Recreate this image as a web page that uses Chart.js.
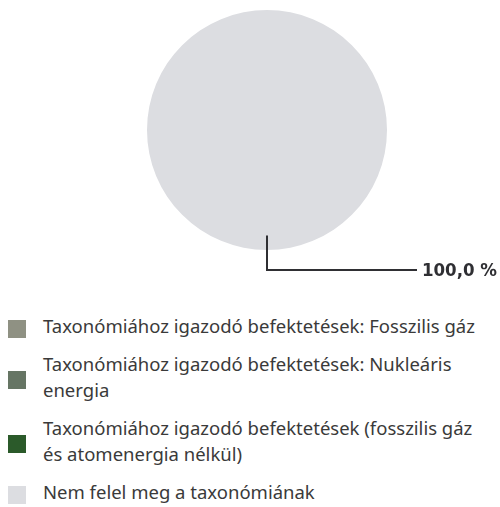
<!DOCTYPE html>
<html>
<head>
<meta charset="utf-8">
<script src="https://cdn.jsdelivr.net/npm/chart.js@4.4.1/dist/chart.umd.min.js"></script>
<style>
  html, body { margin: 0; padding: 0; background: #fff; }
  #wrap { width: 500px; height: 507px; position: relative; overflow: hidden; }
  #pieBox { width: 500px; height: 300px; position: relative; }
  #legende { position: absolute; left: 0; top: 300px; width: 500px;
             font-family: "Noto Sans", sans-serif; font-size: 18.5px; color: #3a3a3a; }
  .item { display: flex; align-items: center; margin-bottom: 11px; }
  .item:first-child { margin-top: 13px; }
  .carre { width: 18px; height: 18px; margin-left: 8px; margin-right: 17px; flex: none; position: relative; top: 3px; }
  .texte div { line-height: 26.5px; white-space: nowrap; }
</style>
</head>
<body>
<div id="wrap">
  <div id="pieBox"><canvas id="chartTaxo"></canvas></div>
  <div id="legende"></div>
</div>
<script>
// Catégories (chaque libellé = lignes de texte de la légende)
const categories = [
  ['Taxonómiához igazodó befektetések: Fosszilis gáz'],
  ['Taxonómiához igazodó befektetések: Nukleáris', 'energia'],
  ['Taxonómiához igazodó befektetések (fosszilis gáz', 'és atomenergia nélkül)'],
  ['Nem felel meg a taxonómiának']
];
// Parts en %
const valeurs = [0, 0, 0, 100];
const couleurs = ['#8f9183', '#667564', '#2b5a2a', '#dcdde1'];
const etiquette = '100,0 %';

// === Plugin : ligne de rappel + étiquette du pourcentage ===
const rappelPlugin = {
  id: 'rappel',
  afterDatasetsDraw(chart) {
    const ctx = chart.ctx;
    const meta = chart.getDatasetMeta(0);
    const idx = valeurs.indexOf(Math.max(...valeurs));
    const arc = meta.data[idx];
    const mid = (arc.startAngle + arc.endAngle) / 2;
    const x0 = arc.x + Math.cos(mid) * arc.outerRadius * 0.88;
    const y0 = arc.y + Math.sin(mid) * arc.outerRadius * 0.88;
    const yLigne = arc.y + arc.outerRadius + 20;
    const xFin = 417;
    ctx.save();
    ctx.strokeStyle = '#2f2f33';
    ctx.lineWidth = 2;
    ctx.beginPath();
    ctx.moveTo(x0, y0);
    ctx.lineTo(x0, yLigne);
    ctx.lineTo(xFin, yLigne);
    ctx.stroke();
    ctx.fillStyle = '#2f2f33';
    ctx.font = 'bold 18.5px "DejaVu Sans Condensed", "DejaVu Sans"';
    ctx.textAlign = 'right';
    ctx.textBaseline = 'middle';
    ctx.fillText(etiquette, 497, yLigne + 1);
    ctx.restore();
  }
};

new Chart(document.getElementById('chartTaxo'), {
  type: 'pie',
  data: {
    labels: categories,
    datasets: [{
      data: valeurs,
      backgroundColor: couleurs,
      borderWidth: 0
    }]
  },
  options: {
    responsive: true,
    maintainAspectRatio: false,
    animation: false,
    layout: { padding: { left: 34, top: 10, bottom: 50 } },
    plugins: {
      legend: { display: false },
      tooltip: { enabled: false }
    }
  },
  plugins: [rappelPlugin]
});

// === Légende HTML ===
const legende = document.getElementById('legende');
categories.forEach((lignes, i) => {
  const item = document.createElement('div');
  item.className = 'item';
  const carre = document.createElement('div');
  carre.className = 'carre';
  carre.style.background = couleurs[i];
  const texte = document.createElement('div');
  texte.className = 'texte';
  lignes.forEach(l => {
    const d = document.createElement('div');
    d.textContent = l;
    texte.appendChild(d);
  });
  item.appendChild(carre);
  item.appendChild(texte);
  legende.appendChild(item);
});
</script>
</body>
</html>
